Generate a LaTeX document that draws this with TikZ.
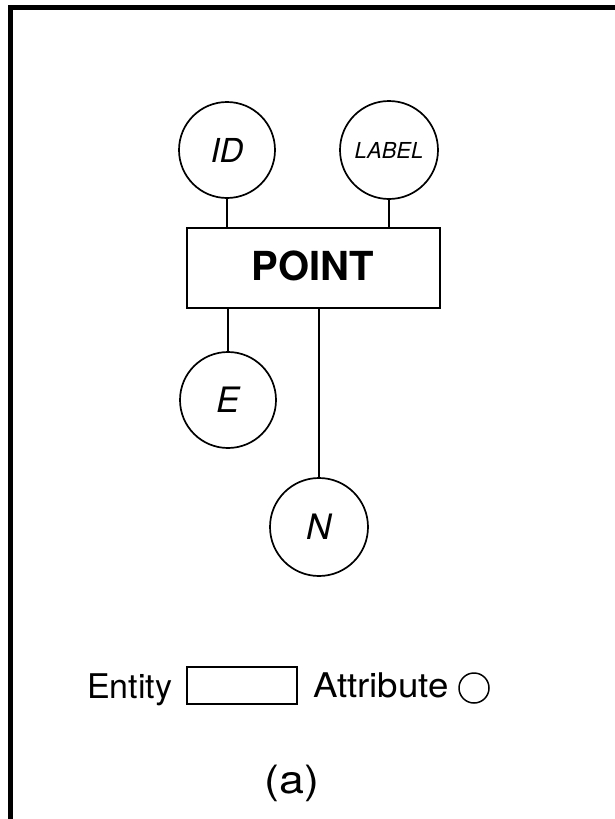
\documentclass[tikz,border=0pt]{standalone}
\usepackage{fontspec}
\setmainfont{TeX Gyre Heros}
\begin{document}
\begin{tikzpicture}[x=1pt,y=-1pt,
  attr/.style={draw,circle,line width=1.7pt,inner sep=0pt,outer sep=0pt},
  entity/.style={draw,rectangle,line width=1.7pt,inner sep=0pt,outer sep=0pt},
  link/.style={line width=1.6pt},
  frameline/.style={line width=5pt}]
\useasboundingbox (0,0) rectangle (615,819);
% frame (top and left only)
\draw[frameline] (8,7.5) -- (615,7.5);
\draw[frameline] (10.5,5) -- (10.5,819);
% entity
\node[entity,minimum width=253pt,minimum height=80pt] (box) at (313.5,268) {};
\node (pointlbl) at (312.5,266) {\fontsize{40}{40}\selectfont\bfseries POINT};
% attributes
\node[attr,minimum size=96pt] (id) at (227,150) {\fontsize{33}{33}\selectfont\itshape ID};
\node[attr,minimum size=98pt] (label) at (389,150) {\fontsize{22}{22}\selectfont\itshape LABEL};
\node[attr,minimum size=96pt] (e) at (228,400) {\fontsize{35}{35}\selectfont\itshape E};
\node[attr,minimum size=98pt] (n) at (319,527) {\fontsize{35}{35}\selectfont\itshape N};
% connectors
\draw[link] (id.south) -- (id.south |- box.north);
\draw[link] (label.south) -- (label.south |- box.north);
\draw[link] (e.north |- box.south) -- (e.north);
\draw[link] (n.north |- box.south) -- (n.north);
% legend
\node[anchor=base west,inner sep=0pt] (entlbl) at (87,698) {\fontsize{34}{34}\selectfont Entity};
\node[entity,minimum width=110pt,minimum height=37pt] (legbox) at (242,685.5) {};
\node[anchor=base west,inner sep=0pt,xscale=1.08] (attlbl) at (313,697) {\fontsize{34}{34}\selectfont Attribute};
\node[attr,line width=1.5pt,minimum size=30pt] (legcirc) at (474,688) {};
\node[anchor=base,inner sep=0pt,xscale=1.15] (caption) at (292,793) {\fontsize{39}{39}\selectfont (a)};
\end{tikzpicture}
\end{document}
